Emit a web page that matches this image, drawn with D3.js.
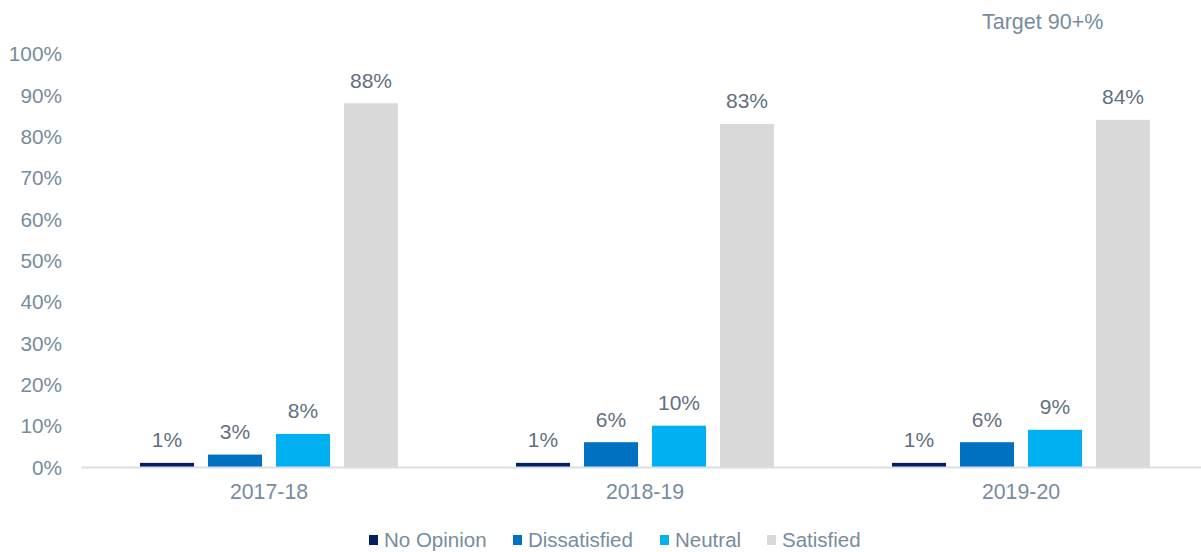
<!DOCTYPE html>
<html>
<head>
<meta charset="utf-8">
<script src="https://cdn.jsdelivr.net/npm/d3@7/dist/d3.min.js"></script>
<style>
  html, body { margin: 0; padding: 0; background: #ffffff; }
  svg { display: block; font-family: "Liberation Sans", Arial, sans-serif; }
</style>
</head>
<body>
<svg id="chart" width="1201" height="552"></svg>
<script>
// Survey satisfaction by year
const years = ["2017-18", "2018-19", "2019-20"];
const seriesNames = ["No Opinion", "Dissatisfied", "Neutral", "Satisfied"];
const noOpinion = [1, 1, 1];
const dissatisfied = [3, 6, 6];
const neutral = [8, 10, 9];
const satisfied = [88, 83, 84];
const yTicks = [0, 10, 20, 30, 40, 50, 60, 70, 80, 90, 100];
const targetText = "Target 90+%";

const colors = ["#002060", "#0070C0", "#00B0F0", "#D9D9D9"];
const seriesValues = [noOpinion, dissatisfied, neutral, satisfied];

const svg = d3.select("#chart");

const x = d3.scaleBand().domain(years).range([81, 1209]).paddingInner(0).paddingOuter(0);
const inner = d3.scaleBand().domain(seriesNames).range([59, x.bandwidth() - 59]).paddingInner(0.205).paddingOuter(0);
const y = d3.scaleLinear().domain([0, 100]).range([467, 53.7]);

// y axis labels
const yAxis = d3.axisLeft(y).tickValues(yTicks).tickFormat(d => d + "%").tickSize(0).tickPadding(0);
const yg = svg.append("g").attr("transform", "translate(62,0)").call(yAxis);
yg.select(".domain").remove();
yg.selectAll("text")
  .attr("fill", "#768c9e")
  .attr("font-size", "20.8px")
  .attr("font-family", "Liberation Sans, Arial, sans-serif")
  .attr("dy", "0.35em");

// bars
const data = [];
years.forEach((yr, i) => {
  seriesNames.forEach((s, j) => {
    data.push({ year: yr, series: s, value: seriesValues[j][i], color: colors[j] });
  });
});

svg.append("g").selectAll("rect").data(data).join("rect")
  .attr("x", d => x(d.year) + inner(d.series))
  .attr("width", inner.bandwidth())
  .attr("y", d => y(d.value))
  .attr("height", d => y(0) - y(d.value))
  .attr("fill", d => d.color);

// value labels
svg.append("g").selectAll("text").data(data).join("text")
  .attr("x", d => x(d.year) + inner(d.series) + inner.bandwidth() / 2)
  .attr("y", d => y(d.value) - 15.5)
  .attr("text-anchor", "middle")
  .attr("fill", "#5f7181")
  .attr("font-size", "21px")
  .text(d => d.value + "%");

// x axis
const xAxis = d3.axisBottom(x).tickSize(0).tickPadding(17);
const xg = svg.append("g").attr("transform", `translate(0,${y(0)})`).call(xAxis);
xg.select(".domain").attr("stroke", "#d9dfe5").attr("stroke-width", 2);
xg.selectAll("text")
  .attr("fill", "#768c9e")
  .attr("font-size", "21.3px")
  .attr("font-family", "Liberation Sans, Arial, sans-serif");

// target note
svg.append("text")
  .attr("x", 982).attr("y", 28.5)
  .attr("fill", "#768c9e")
  .attr("font-size", "21.5px")
  .text(targetText);

// legend
const legendX = [369, 513, 660, 767];
const lg = svg.append("g").selectAll("g").data(seriesNames).join("g")
  .attr("transform", (d, i) => `translate(${legendX[i]},540)`);
lg.append("rect").attr("x", 0).attr("y", -5).attr("width", 9).attr("height", 10)
  .attr("fill", (d, i) => colors[i]);
lg.append("text").attr("x", 15).attr("y", 0).attr("dy", "0.35em")
  .attr("fill", "#768c9e").attr("font-size", "20.5px").text(d => d);
</script>
</body>
</html>
